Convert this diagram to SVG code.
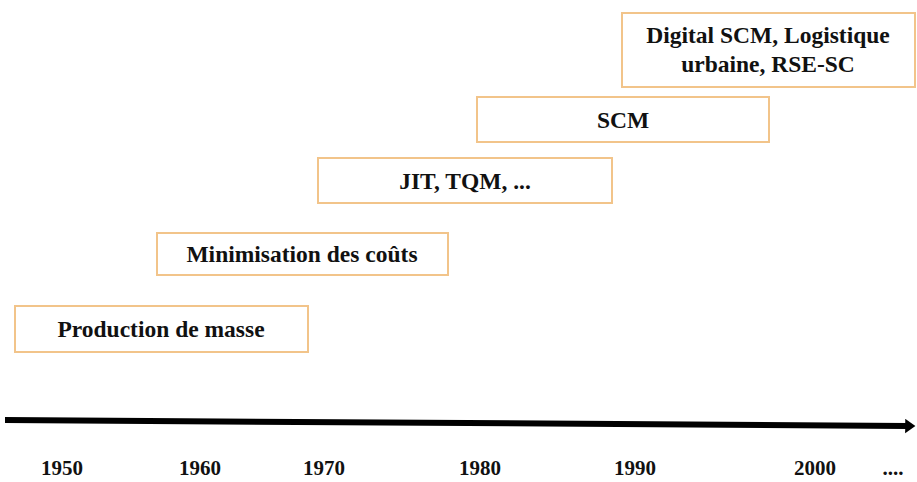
<svg xmlns="http://www.w3.org/2000/svg" width="917" height="482" viewBox="0 0 917 482">
<style>
.box{fill:#fff;stroke:#f2c48a;stroke-width:2}
.lbl{font-family:"Liberation Serif","Times New Roman",serif;font-weight:bold;font-size:23.5px;fill:#111;text-anchor:middle}
.yr{font-family:"Liberation Serif","Times New Roman",serif;font-weight:bold;font-size:21px;fill:#111;text-anchor:middle}
</style>
<defs>
<marker id="ah" markerWidth="2" markerHeight="3" refX="0.3" refY="1.2" orient="auto" markerUnits="strokeWidth">
<path d="M0,0 L1.7,1.2 L0,2.4 Z" fill="#000"/>
</marker>
</defs>
<rect width="917" height="482" fill="#fff"/>
<g id="connectors">
<line x1="5" y1="420" x2="907" y2="426" stroke="#000" stroke-width="6" marker-end="url(#ah)"/>
</g>
<g id="n1"><rect class="box" x="15" y="306" width="293" height="46"/><text class="lbl" x="161" y="337">Production de masse</text></g>
<g id="n2"><rect class="box" x="157" y="233" width="291" height="42"/><text class="lbl" x="302" y="262">Minimisation des coûts</text></g>
<g id="n3"><rect class="box" x="318" y="158" width="294" height="45"/><text class="lbl" x="465" y="189">JIT, TQM, ...</text></g>
<g id="n4"><rect class="box" x="477" y="97" width="292" height="45"/><text class="lbl" x="623" y="128">SCM</text></g>
<g id="n5"><rect class="box" x="622" y="13" width="293" height="74"/><text class="lbl" x="768" y="43">Digital SCM, Logistique</text><text class="lbl" x="768" y="72">urbaine, RSE-SC</text></g>
<g id="years">
<text class="yr" x="62" y="475">1950</text>
<text class="yr" x="200" y="475">1960</text>
<text class="yr" x="324" y="475">1970</text>
<text class="yr" x="480" y="475">1980</text>
<text class="yr" x="635" y="475">1990</text>
<text class="yr" x="815" y="475">2000</text>
<text class="yr" x="893" y="475">....</text>
</g>
</svg>
